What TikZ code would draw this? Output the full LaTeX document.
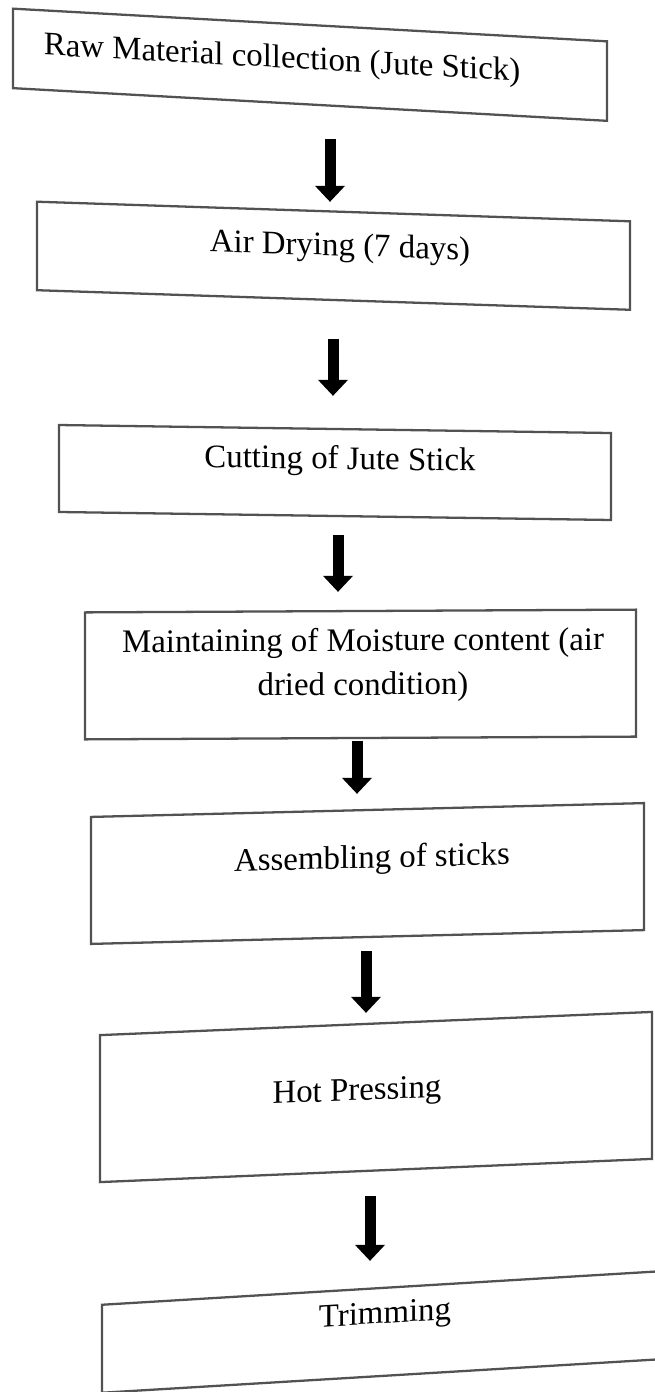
\documentclass[tikz,border=0pt]{standalone}
\usepackage{fontspec}
\setmainfont{Liberation Serif}
\usetikzlibrary{arrows.meta}

\begin{document}
\begin{tikzpicture}[x=0.02cm, y=-0.02cm,
  stage/.style={draw=black!68, line width=1.3pt, inner sep=0pt, rectangle},
  caption/.style={font=\fontsize{18.7}{25}\selectfont, inner sep=0pt, align=center},
  flow/.style={line width=0.22cm, black, -{Triangle[length=0.32cm,width=0.58cm]}}]

\useasboundingbox (0,0) rectangle (654,1392);

% process boxes (the scan leans a little, so each one is slanted)
\node[stage, yslant=-0.055, minimum width=11.88cm, minimum height=1.59cm] (b1) at (310, 64.75) {};
\node[stage, yslant=-0.033, minimum width=11.86cm, minimum height=1.77cm] (b2) at (333.5, 255.75) {};
\node[stage, yslant=-0.0145, minimum width=11.04cm, minimum height=1.74cm] (b3) at (335, 472.5) {};
\node[stage, yslant=0.005, minimum width=11.02cm, minimum height=2.54cm] (b4) at (360.5, 674.5) {};
\node[stage, yslant=0.025, minimum width=11.06cm, minimum height=2.54cm] (b5) at (367.5, 873.5) {};
\node[stage, yslant=0.042, minimum width=11.04cm, minimum height=2.94cm] (b6) at (376, 1097) {};
\node[stage, yslant=0.06, minimum width=11.16cm, minimum height=1.76cm] (b7) at (381, 1332) {};

% labels
\node[caption, yslant=-0.055] (t1) at (282, 60) {Raw Material collection (Jute Stick)};
\node[caption, yslant=-0.033] (t2) at (340, 248) {Air Drying (7 days)};
\node[caption, yslant=-0.0145] (t3) at (340, 461) {Cutting of Jute Stick};
\node[caption, yslant=0.005] (t4) at (363, 665) {Maintaining of Moisture content (air\\dried condition)};
\node[caption, yslant=0.025] (t5) at (372, 860) {Assembling of sticks};
\node[caption, yslant=0.042] (t6) at (357, 1093) {Hot Pressing};
\node[caption, yslant=0.06] (t7) at (385, 1316) {Trimming};

% arrows
\draw[flow] ([shift={(20,33.5)}]b1.south) -- ([shift={(-3.5,-8.5)}]b2.north);
\draw[flow] ([shift={(-0.5,38)}]b2.south) -- ([shift={(-2,-32)}]b3.north);
\draw[flow] ([shift={(3,18)}]b3.south) -- ([shift={(-22.5,-18)}]b4.north);
\draw[flow] ([shift={(-3.5,2)}]b4.south) -- ([shift={(-10.5,-15)}]b5.north);
\draw[flow] ([shift={(-1.5,13)}]b5.south) -- ([shift={(-10,-9.5)}]b6.north);
\draw[flow] ([shift={(-6,24.5)}]b6.south) -- ([shift={(-11,-26)}]b7.north);
\end{tikzpicture}
\end{document}
